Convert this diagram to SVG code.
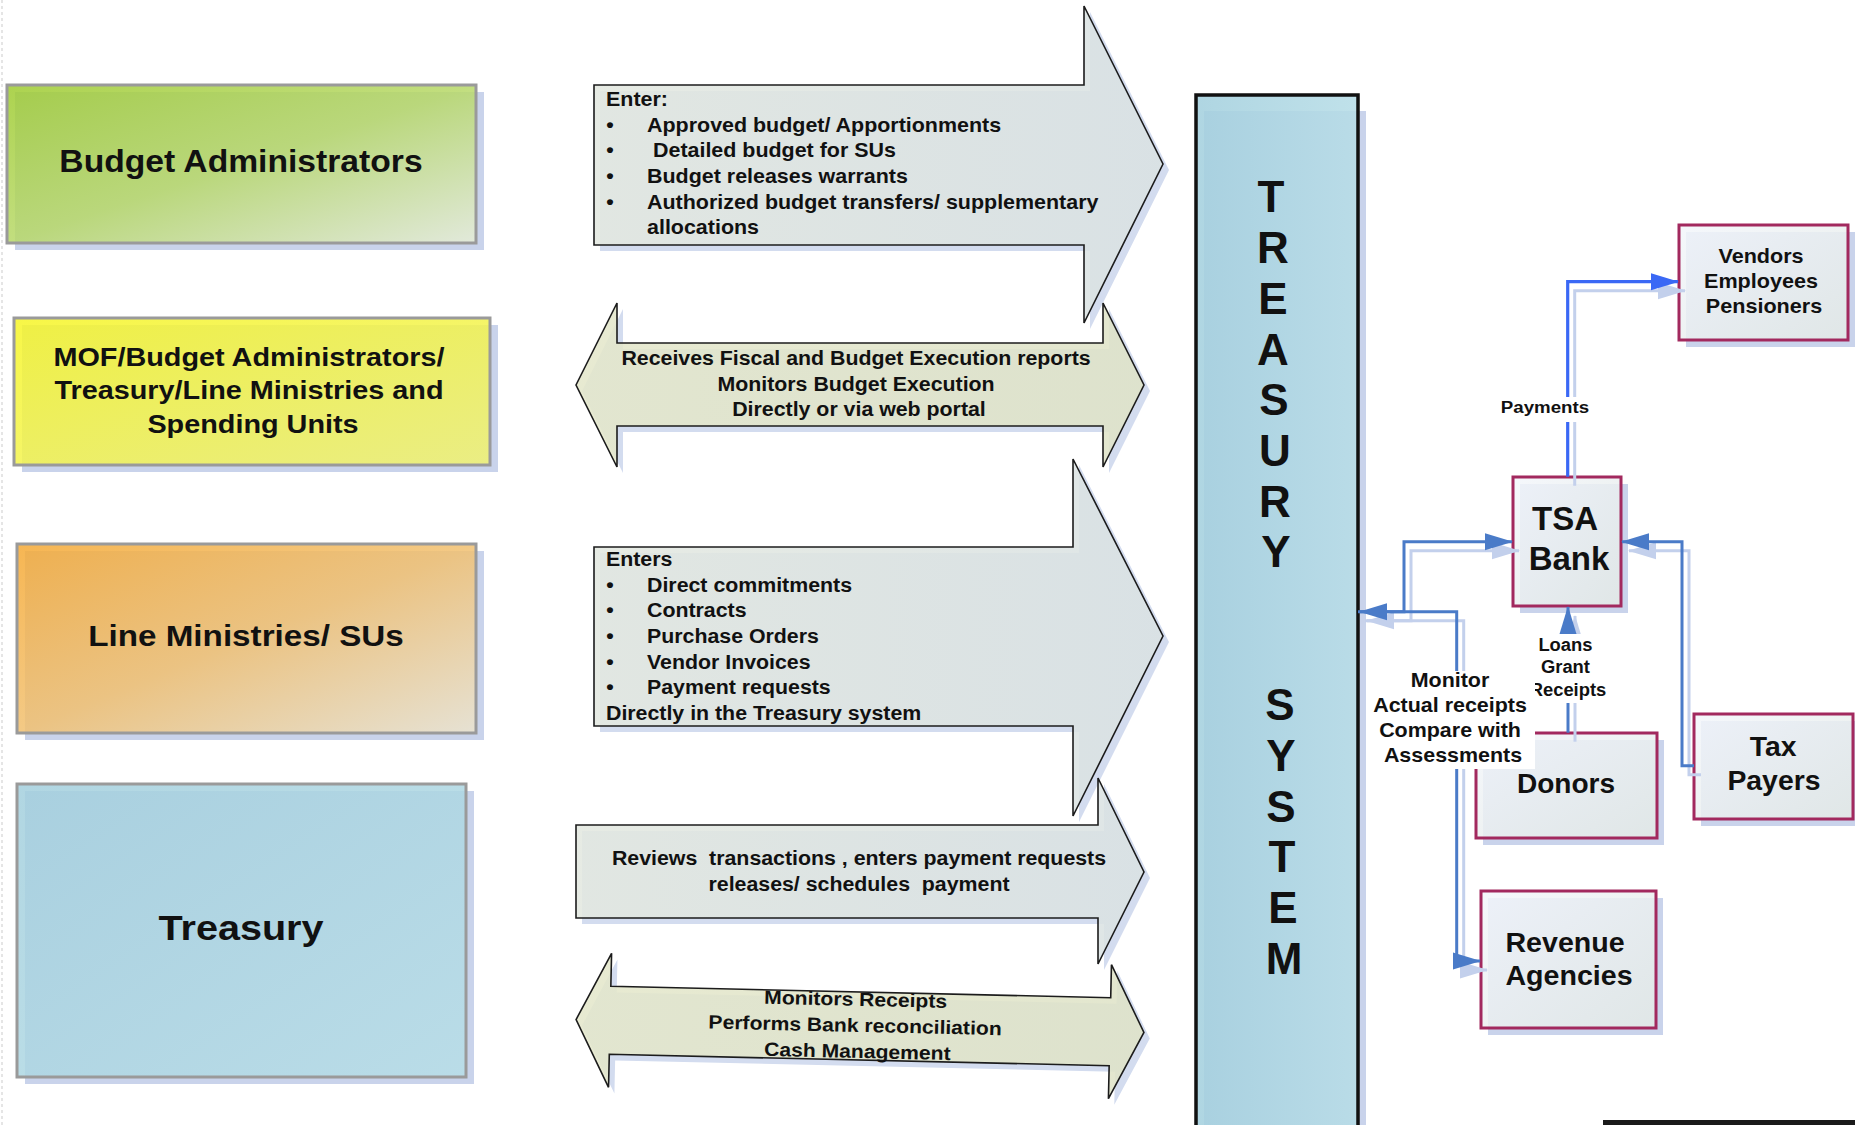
<svg xmlns="http://www.w3.org/2000/svg" width="1855" height="1125" viewBox="0 0 1855 1125">
  <defs>
    <style>
      .t { font-family: "Liberation Sans", Arial, Helvetica, sans-serif; font-weight: bold; fill: #111; }
      .sh { fill: #c9d3eb; }
      .sha { fill: #d3dcef; }
      .lbox { stroke: #9a9a9a; stroke-width: 3; fill-opacity: 0.85; }
      .rbox { stroke: #a2295e; stroke-width: 3; fill: url(#gNode); fill-opacity: 0.85; }
      .col { stroke: #111; stroke-width: 3.5; fill: url(#gCol); fill-opacity: 0.88; }
      .arw { stroke: #1c1c1c; stroke-width: 1.6; fill: url(#gArrow); fill-opacity: 0.88; stroke-linejoin: miter; }
      .dbl { stroke: #1c1c1c; stroke-width: 1.6; fill: url(#gDouble); fill-opacity: 0.88; stroke-linejoin: miter; }
      .ln { fill: none; stroke: #4a7bc8; stroke-width: 3; }
      .lnP { fill: none; stroke: #3a68f5; stroke-width: 3.2; }
      .lnS { fill: none; stroke: #c3d0ec; stroke-width: 3; }
      .bg { fill: #ffffff; }
    </style>
    <linearGradient id="gGreen" x1="0" y1="0" x2="1" y2="1">
      <stop offset="0" stop-color="#9ecb30"/>
      <stop offset="0.5" stop-color="#b7d868"/>
      <stop offset="1" stop-color="#e6edd8"/>
    </linearGradient>
    <linearGradient id="gYellow" x1="0" y1="0" x2="1" y2="1">
      <stop offset="0" stop-color="#f6f526"/>
      <stop offset="1" stop-color="#f0f272"/>
    </linearGradient>
    <linearGradient id="gOrange" x1="0" y1="0" x2="1" y2="1">
      <stop offset="0" stop-color="#f5a934"/>
      <stop offset="0.5" stop-color="#f1c070"/>
      <stop offset="1" stop-color="#ebe4cf"/>
    </linearGradient>
    <linearGradient id="gBlue" x1="0" y1="0" x2="1" y2="1">
      <stop offset="0" stop-color="#a3cfdd"/>
      <stop offset="1" stop-color="#b7dee7"/>
    </linearGradient>
    <linearGradient id="gCol" x1="0" y1="0" x2="1" y2="0">
      <stop offset="0" stop-color="#a4d0de"/>
      <stop offset="1" stop-color="#b7dde7"/>
    </linearGradient>
    <linearGradient id="gNode" x1="0" y1="0" x2="1" y2="1">
      <stop offset="0" stop-color="#f3f6fb"/>
      <stop offset="1" stop-color="#e4eae6"/>
    </linearGradient>
    <linearGradient id="gArrow" x1="0" y1="0" x2="1" y2="0">
      <stop offset="0" stop-color="#e3e8e0"/>
      <stop offset="1" stop-color="#dae2e3"/>
    </linearGradient>
    <linearGradient id="gDouble" x1="0" y1="0" x2="1" y2="0">
      <stop offset="0" stop-color="#e4e7cb"/>
      <stop offset="1" stop-color="#dfe3c8"/>
    </linearGradient>
    <marker id="mB" markerUnits="userSpaceOnUse" markerWidth="28" markerHeight="18" viewBox="0 0 28 18" refX="27" refY="9" orient="auto-start-reverse">
      <path d="M0,0.5 L28,9 L0,17.5 z" fill="#4a7bc8"/>
    </marker>
    <marker id="mP" markerUnits="userSpaceOnUse" markerWidth="28" markerHeight="18" viewBox="0 0 28 18" refX="27" refY="9" orient="auto-start-reverse">
      <path d="M0,0.5 L28,9 L0,17.5 z" fill="#3a68f5"/>
    </marker>
    <marker id="mS" markerUnits="userSpaceOnUse" markerWidth="28" markerHeight="18" viewBox="0 0 28 18" refX="27" refY="9" orient="auto-start-reverse">
      <path d="M0,0.5 L28,9 L0,17.5 z" fill="#c3d0ec"/>
    </marker>
  </defs>

  <rect x="0" y="0" width="1855" height="1125" fill="#ffffff"/>
  <line x1="2" y1="0" x2="2" y2="1125" stroke="#dddddd" stroke-width="1.5" stroke-dasharray="3 3"/>

  <!-- Left column: actors -->
  <g id="budget-administrators">
    <rect class="sh" x="15" y="92" width="469" height="158"/>
    <rect class="lbox" x="7" y="85" width="469" height="158" fill="url(#gGreen)"/>
    <text class="t" font-size="30.6" text-anchor="middle" transform="translate(241 0) scale(1.1 1)" x="0" y="172">Budget Administrators</text>
  </g>

  <g id="mof">
    <rect class="sh" x="22" y="325" width="476" height="147"/>
    <rect class="lbox" x="14" y="318" width="476" height="147" fill="url(#gYellow)"/>
    <text class="t" font-size="26.2" text-anchor="middle" transform="translate(253 0) scale(1.1 1)">
      <tspan x="0" y="366">MOF/Budget Administrators/</tspan>
      <tspan x="0" y="399.5">Treasury/Line Ministries and</tspan>
      <tspan x="0" y="433">Spending Units</tspan>
    </text>
  </g>

  <g id="line-ministries">
    <rect class="sh" x="25" y="551" width="459" height="189"/>
    <rect class="lbox" x="17" y="544" width="459" height="189" fill="url(#gOrange)"/>
    <text class="t" font-size="30.2" text-anchor="middle" transform="translate(246 0) scale(1.1 1)" x="0" y="646">Line Ministries/ SUs</text>
  </g>

  <g id="treasury">
    <rect class="sh" x="25" y="791" width="449" height="293"/>
    <rect class="lbox" x="17" y="784" width="449" height="293" fill="url(#gBlue)"/>
    <text class="t" font-size="36" text-anchor="middle" transform="translate(241 0) scale(1.1 1)" x="0" y="940">Treasury</text>
  </g>

  <!-- Middle column: flow arrows -->
  <g id="flow-budget">
    <polygon class="sha" points="600,91 1090,91 1090,12 1169,170 1090,329 1090,251 600,251"/>
    <polygon class="arw" points="594,85 1084,85 1084,6 1163,164 1084,323 1084,245 594,245"/>
    <g class="t" font-size="19.5" transform="translate(606 0) scale(1.1 1)">
      <text x="0" y="106">Enter:</text>
      <text x="3.6" y="131.7" text-anchor="middle">•</text>
      <text x="3.6" y="157.4" text-anchor="middle">•</text>
      <text x="3.6" y="183.1" text-anchor="middle">•</text>
      <text x="3.6" y="208.8" text-anchor="middle">•</text>
      <text x="37.3" y="131.7">Approved budget/ Apportionments</text>
      <text x="37.3" y="157.4" xml:space="preserve"> Detailed budget for SUs</text>
      <text x="37.3" y="183.1">Budget releases warrants</text>
      <text x="37.3" y="208.8">Authorized budget transfers/ supplementary</text>
      <text x="37.3" y="234.5">allocations</text>
    </g>
  </g>

  <g id="flow-reports">
    <polygon class="sha" points="582,391 623,309 623,349 1109,349 1109,309 1150,391 1109,473 1109,432 623,432 623,473"/>
    <polygon class="dbl" points="576,385 617,303 617,343 1103,343 1103,303 1144,385 1103,467 1103,426 617,426 617,467"/>
    <text class="t" font-size="19.4" text-anchor="middle" transform="translate(859 0) scale(1.1 1)">
      <tspan x="0" y="365.5">Receives Fiscal and Budget Execution reports</tspan>
      <tspan x="0" y="391">Monitors Budget Execution</tspan>
      <tspan x="0" y="416.5">Directly or via web portal</tspan>
    </text>
  </g>

  <g id="flow-commitments">
    <polygon class="sha" points="600,553 1079,553 1079,465 1169,642 1079,822 1079,732 600,732"/>
    <polygon class="arw" points="594,547 1073,547 1073,459 1163,636 1073,816 1073,726 594,726"/>
    <g class="t" font-size="19.4" transform="translate(606 0) scale(1.1 1)">
      <text x="0" y="566">Enters</text>
      <text x="3.6" y="591.7" text-anchor="middle">•</text>
      <text x="3.6" y="617.4" text-anchor="middle">•</text>
      <text x="3.6" y="643.1" text-anchor="middle">•</text>
      <text x="3.6" y="668.8" text-anchor="middle">•</text>
      <text x="3.6" y="694.5" text-anchor="middle">•</text>
      <text x="37.3" y="591.7">Direct commitments</text>
      <text x="37.3" y="617.4">Contracts</text>
      <text x="37.3" y="643.1">Purchase Orders</text>
      <text x="37.3" y="668.8">Vendor Invoices</text>
      <text x="37.3" y="694.5">Payment requests</text>
      <text x="0" y="720.5">Directly in the Treasury system</text>
    </g>
  </g>

  <g id="flow-payments">
    <polygon class="sha" points="582,831 1104,831 1104,784 1150,878 1104,970 1104,924 582,924"/>
    <polygon class="arw" points="576,825 1098,825 1098,778 1144,872 1098,964 1098,918 576,918"/>
    <text class="t" font-size="19.4" text-anchor="middle" transform="translate(859 0) scale(1.1 1)" xml:space="preserve"><tspan x="0" y="865">Reviews  transactions , enters payment requests</tspan><tspan x="0" y="891">releases/ schedules  payment</tspan></text>
  </g>

  <g id="flow-cash">
    <g transform="rotate(1.3 860 1026)">
      <polygon class="sha" points="582,1032 616,965 616,998 1116,998 1116,965 1150,1032 1116,1099 1116,1066 616,1066 616,1099"/>
      <polygon class="dbl" points="576,1026 610,959 610,992 1110,992 1110,959 1144,1026 1110,1093 1110,1060 610,1060 610,1093"/>
      <text class="t" font-size="19.2" text-anchor="middle" transform="translate(858 0) scale(1.1 1)">
        <tspan x="0" y="1006">Monitors Receipts</tspan>
        <tspan x="0" y="1032">Performs Bank reconciliation</tspan>
        <tspan x="0" y="1058">Cash Management</tspan>
      </text>
    </g>
  </g>

  <!-- Central system column -->
  <g id="treasury-system">
    <rect class="sh" x="1204" y="111" width="162" height="1040"/>
    <rect class="col" x="1196" y="95" width="162" height="1040"/>
    <g class="t" font-size="44" text-anchor="middle">
      <text x="1271" y="212">T</text>
      <text x="1273" y="263">R</text>
      <text x="1273" y="314">E</text>
      <text x="1273" y="365">A</text>
      <text x="1274" y="415">S</text>
      <text x="1275" y="466">U</text>
      <text x="1275" y="517">R</text>
      <text x="1276" y="567">Y</text>
      <text x="1280" y="720">S</text>
      <text x="1281" y="771">Y</text>
      <text x="1281" y="822">S</text>
      <text x="1282" y="872">T</text>
      <text x="1283" y="923">E</text>
      <text x="1284" y="974">M</text>
    </g>
  </g>

  <!-- Right side: bank and external parties -->
  <g id="vendors">
    <rect class="sh" x="1686" y="232" width="169" height="115"/>
    <rect class="rbox" x="1679" y="225" width="169" height="115"/>
    <text class="t" font-size="20" text-anchor="middle" transform="translate(1764 0) scale(1.08 1)">
      <tspan x="0" y="263">Vendors</tspan>
      <tspan x="0" y="288">Employees</tspan>
      <tspan x="0" y="313">Pensioners</tspan>
    </text>
  </g>

  <g id="tsa-bank">
    <rect class="sh" x="1520" y="484" width="108" height="129"/>
    <rect class="rbox" x="1513" y="477" width="108" height="129"/>
    <text class="t" font-size="33" text-anchor="middle">
      <tspan x="1569" y="530">TSA</tspan>
      <tspan x="1569" y="570">Bank</tspan>
    </text>
  </g>

  <g id="donors">
    <rect class="sh" x="1483" y="740" width="181" height="105"/>
    <rect class="rbox" x="1476" y="733" width="181" height="105"/>
    <text class="t" font-size="27" text-anchor="middle" transform="translate(1566 0) scale(1.04 1)" x="0" y="793">Donors</text>
  </g>

  <g id="tax-payers">
    <rect class="sh" x="1701" y="721" width="159" height="105"/>
    <rect class="rbox" x="1694" y="714" width="159" height="105"/>
    <text class="t" font-size="27" text-anchor="middle" transform="translate(1775 0) scale(1.05 1)">
      <tspan x="2" y="756">Tax</tspan>
      <tspan x="-1" y="790">Payers</tspan>
    </text>
  </g>

  <g id="revenue-agencies">
    <rect class="sh" x="1488" y="898" width="175" height="137"/>
    <rect class="rbox" x="1481" y="891" width="175" height="137"/>
    <text class="t" font-size="27" text-anchor="middle" transform="translate(1569 0) scale(1.06 1)">
      <tspan x="0" y="952">Revenue</tspan>
      <tspan x="0" y="985">Agencies</tspan>
    </text>
  </g>

  <!-- Connectors -->
  <g id="connectors">
    <g transform="translate(7 9)">
      <path class="lnS" d="M1567.7,476.7 V281.7 H1678" marker-end="url(#mS)"/>
      <path class="lnS" d="M1358,611.7 H1404 V541.7 H1512" marker-end="url(#mS)"/>
      <path class="lnS" d="M1694,765.7 H1682 V541.7 H1622" marker-end="url(#mS)"/>
      <path class="lnS" d="M1568,732.7 V607" marker-end="url(#mS)"/>
      <path class="lnS" d="M1360,611.7 H1456.7 V961 H1480" marker-start="url(#mS)" marker-end="url(#mS)"/>
    </g>
    <path id="c-payments" class="lnP" d="M1567.7,476.7 V281.7 H1678" marker-end="url(#mP)"/>
    <path id="c-system-bank" class="ln" d="M1358,611.7 H1404 V541.7 H1512" marker-end="url(#mB)"/>
    <path id="c-tax-bank" class="ln" d="M1694,765.7 H1682 V541.7 H1622" marker-end="url(#mB)"/>
    <path id="c-donors-bank" class="ln" d="M1568,732.7 V607" marker-end="url(#mB)"/>
    <path id="c-system-revenue" class="ln" d="M1360,611.7 H1456.7 V961 H1480" marker-start="url(#mB)" marker-end="url(#mB)"/>

    <g id="lbl-payments">
      <rect class="bg" x="1500" y="397" width="90" height="25"/>
      <text class="t" font-size="17" text-anchor="middle" transform="translate(1545 0) scale(1.1 1)" x="0" y="413">Payments</text>
    </g>
    <g id="lbl-loans">
      <rect class="bg" x="1529" y="634" width="79" height="69"/>
      <text class="t" font-size="17.5" text-anchor="middle" transform="translate(1568 0) scale(1.05 1)">
        <tspan x="0" y="651">Loans</tspan>
        <tspan x="0" y="673.5">Grant</tspan>
        <tspan x="0" y="696">Receipts</tspan>
      </text>
    </g>
    <g id="lbl-monitor">
      <rect class="bg" x="1375" y="671" width="160" height="98"/>
      <text class="t" font-size="19.5" text-anchor="middle" transform="translate(1453 0) scale(1.1 1)">
        <tspan x="0" y="687.5">Monitor</tspan>
        <tspan x="0" y="712.5">Actual receipts</tspan>
        <tspan x="0" y="737.5">Compare with</tspan>
        <tspan x="0" y="762.5">Assessments</tspan>
      </text>
    </g>
  </g>

  <rect x="1603" y="1120" width="252" height="5" fill="#1a1a1a"/>
</svg>
